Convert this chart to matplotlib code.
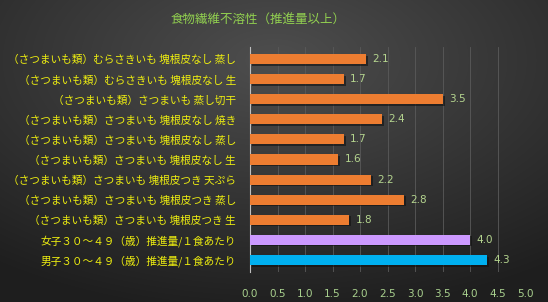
import numpy as np
import matplotlib
matplotlib.use("Agg")
import matplotlib.pyplot as plt

plt.rcParams['font.family'] = ['Noto Sans CJK JP', 'DejaVu Sans']

title = "食物繊維不溶性（推進量以上）"
categories = [
    "男子３０～４９（歳）推進量/１食あたり",
    "女子３０～４９（歳）推進量/１食あたり",
    "（さつまいも類）さつまいも 塊根皮つき 生",
    "（さつまいも類）さつまいも 塊根皮つき 蒸し",
    "（さつまいも類）さつまいも 塊根皮つき 天ぷら",
    "（さつまいも類）さつまいも 塊根皮なし 生",
    "（さつまいも類）さつまいも 塊根皮なし 蒸し",
    "（さつまいも類）さつまいも 塊根皮なし 焼き",
    "（さつまいも類）さつまいも 蒸し切干",
    "（さつまいも類）むらさきいも 塊根皮なし 生",
    "（さつまいも類）むらさきいも 塊根皮なし 蒸し",
]
values = [4.3, 4.0, 1.8, 2.8, 2.2, 1.6, 1.7, 2.4, 3.5, 1.7, 2.1]
bar_colors = ["#00B0F0", "#CC99FF"] + ["#ED7D31"] * 9
xticks = [0.0, 0.5, 1.0, 1.5, 2.0, 2.5, 3.0, 3.5, 4.0, 4.5, 5.0]

fig = plt.figure(figsize=(5.48, 3.02), dpi=100)

# background radial gradient
bg = fig.add_axes([0, 0, 1, 1])
yy, xx = np.mgrid[0:302, 0:548]
cx, cy = 274, 60
r = np.sqrt(((xx - cx) / 548) ** 2 + ((yy - cy) / 302) ** 2)
r = np.clip(r / 0.85, 0, 1)
c0 = np.array([0x4e, 0x4e, 0x4e]) / 255
c1 = np.array([0x1e, 0x1e, 0x1e]) / 255
img = c0[None, None, :] * (1 - r[..., None]) + c1[None, None, :] * r[..., None]
bg.imshow(img, aspect='auto', extent=[0, 1, 0, 1])
bg.axis('off')

ax = fig.add_axes([250 / 548, 1 - 272 / 302, 275 / 548, 225 / 302])
ax.patch.set_alpha(0)
y = np.arange(len(categories))
# shadows
ax.barh(y - 0.08, values, height=0.5, left=0.04, color="#111111", alpha=0.6, zorder=2)
ax.barh(y, values, height=0.5, color=bar_colors, zorder=3)
for yi, v in zip(y, values):
    ax.text(v + 0.12, yi, f"{v:.1f}", va='center', ha='left', fontsize=7.5,
            color="#B5D58F", family=['DejaVu Sans'])
ax.set_xlim(0, 5.0)
ax.set_ylim(-0.6, len(categories) - 0.4)
ax.set_yticks(y)
ax.set_yticklabels(categories, fontsize=7.7, color="#EEEE10")
ax.set_xticks(xticks)
ax.set_xticklabels([f"{t:.1f}" for t in xticks], fontsize=7.5, color="#A9D18E",
                   family=['DejaVu Sans'])
ax.tick_params(axis='both', length=0)
ax.tick_params(axis='y', pad=10)
ax.tick_params(axis='x', pad=12)
ax.grid(axis='x', color="#5a5a5a", linewidth=0.6, zorder=0)
for s in ['top', 'right', 'bottom']:
    ax.spines[s].set_visible(False)
ax.spines['left'].set_color("#BFBFBF")
ax.spines['left'].set_linewidth(0.8)

fig.text(258 / 548, 1 - 20 / 302, title, ha='center', va='center', fontsize=9,
         color="#92D050")

fig.savefig("out.png", dpi=100)
